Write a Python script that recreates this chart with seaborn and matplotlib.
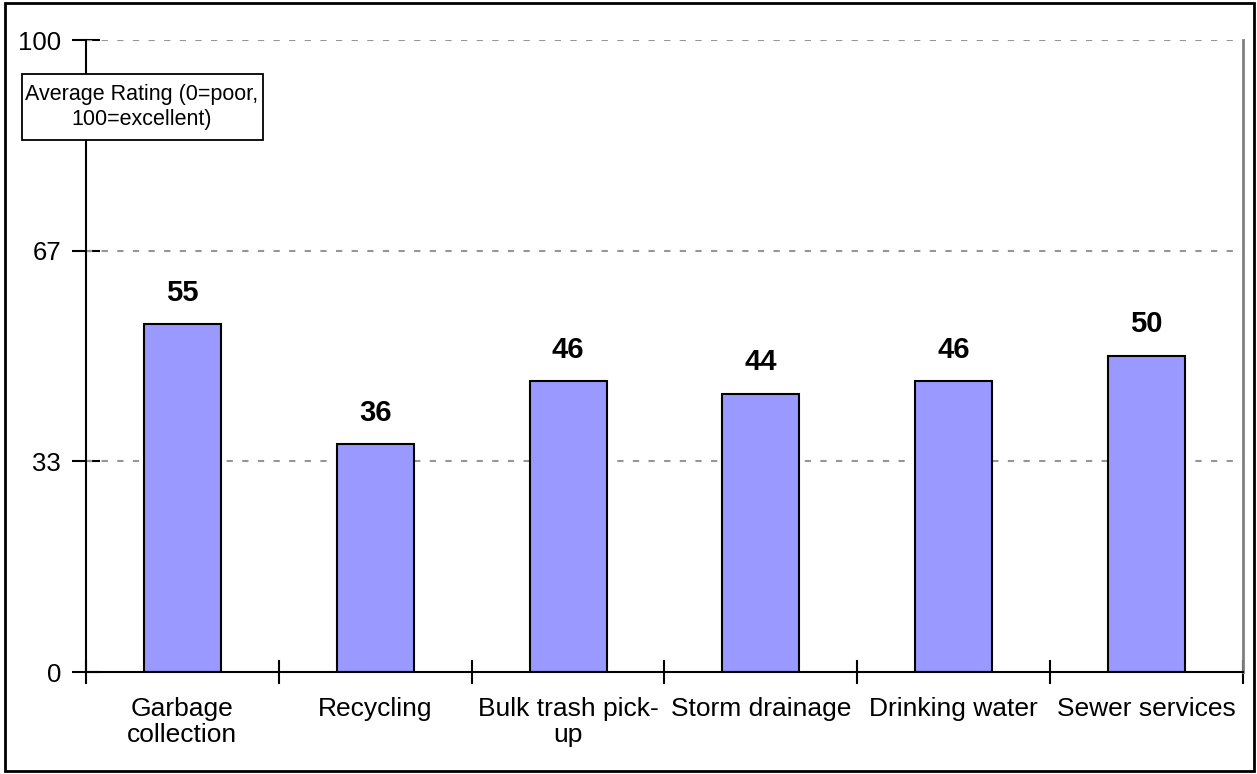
import matplotlib
matplotlib.use("Agg")
import matplotlib.pyplot as plt
import seaborn as sns
import pandas as pd
from matplotlib.patches import Rectangle

categories = ["Garbage\ncollection", "Recycling", "Bulk trash pick-\nup",
              "Storm drainage", "Drinking water", "Sewer services"]
ratings = [55, 36, 46, 44, 46, 50]
y_ticks = [0, 100 / 3, 200 / 3, 100]
y_labels = ["0", "33", "67", "100"]
axis_note = "Average Rating (0=poor,\n100=excellent)"

sns.set_style("white")
plt.rcParams["font.family"] = ["Liberation Sans", "DejaVu Sans"]
plt.rcParams["text.color"] = "black"
plt.rcParams["xtick.color"] = "black"
plt.rcParams["ytick.color"] = "black"

W, H = 1257, 774
df = pd.DataFrame({"service": categories, "rating": ratings})

fig = plt.figure(figsize=(W / 100, H / 100), dpi=100)
ax = fig.add_axes([86 / W, 1 - 672 / H, (1243 - 86) / W, (672 - 40) / H])

sns.barplot(data=df, x="service", y="rating", color="#9999FF", saturation=1,
            edgecolor="black", linewidth=1.5, width=0.4, ax=ax, zorder=3)

ax.set_xlim(-0.5, len(categories) - 0.5)
ax.set_ylim(0, 100)
ax.set_xlabel("")
ax.set_ylabel("")

# dashed gray gridlines, behind the bars
for yv in y_ticks[1:]:
    ax.axhline(yv, color="#969696", linestyle=(0, (3, 4.5)), linewidth=1.5, zorder=1)

ax.set_yticks(y_ticks)
ax.set_yticklabels(y_labels, fontsize=18.5)
ax.tick_params(axis="y", left=True, direction="inout", length=20, width=1.5,
               color="black", labelcolor="black", pad=8)

# category boundary ticks (major) and labels (minor)
ax.set_xticks([i - 0.5 for i in range(len(categories) + 1)])
ax.set_xticklabels([])
ax.set_xticks(range(len(categories)), minor=True)
ax.set_xticklabels(categories, minor=True, fontsize=19, linespacing=1.1)
ax.tick_params(axis="x", which="major", bottom=True, direction="inout", length=17,
               width=1.5, color="black")
ax.tick_params(axis="x", which="minor", bottom=True, length=0, pad=18, labelcolor="black")

for side in ["left", "bottom"]:
    ax.spines[side].set_color("black")
    ax.spines[side].set_linewidth(1.5)
    ax.spines[side].set_zorder(4)
ax.spines["top"].set_visible(False)
ax.spines["right"].set_color("#808080")
ax.spines["right"].set_linewidth(2)

for i, v in enumerate(ratings):
    ax.text(i, v + 2.8, str(v), ha="center", va="bottom", fontsize=21,
            fontweight="bold", color="black")

# boxed axis note
fig.patches.append(Rectangle((22 / W, 1 - 140 / H), (263 - 22) / W, (140 - 74) / H,
                             transform=fig.transFigure, facecolor="white",
                             edgecolor="black", linewidth=1.3, zorder=5))
fig.text(142 / W, 1 - 107 / H, axis_note, ha="center", va="center", fontsize=15.5,
         linespacing=1.25, color="black", zorder=6)

# outer frame
fig.patches.append(Rectangle((5 / W, 3 / H), 1249 / W, 768 / H,
                             transform=fig.transFigure, fill=False,
                             edgecolor="black", linewidth=2))

fig.savefig("out.png", dpi=100)
